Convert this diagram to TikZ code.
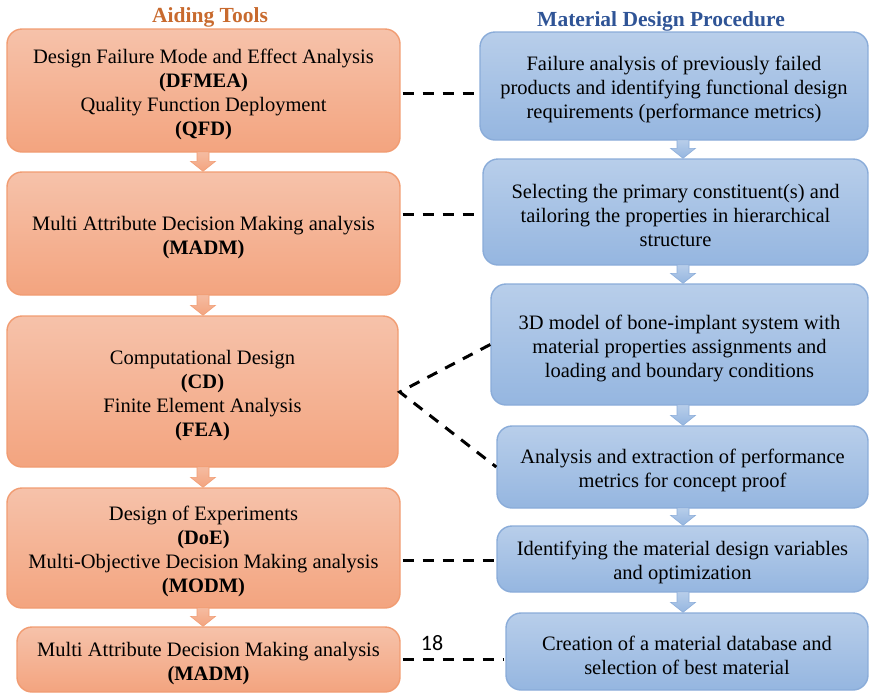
\documentclass[tikz,border=0pt]{standalone}
\usepackage{fontspec}
\setmainfont{Liberation Serif}
\newfontfamily\labelfont{Carlito}
\usetikzlibrary{calc}

\definecolor{toolTop}{RGB}{246,194,170}
\definecolor{toolBot}{RGB}{243,164,127}
\definecolor{toolEdge}{RGB}{241,156,114}
\definecolor{procTop}{RGB}{184,206,234}
\definecolor{procBot}{RGB}{149,182,224}
\definecolor{procEdge}{RGB}{138,172,217}
\definecolor{toolHead}{RGB}{200,106,46}
\definecolor{procHead}{RGB}{47,84,150}

% tall strut on the first line keeps the text block a little low in its box
\newcommand\firststrut{\rule{0pt}{22pt}}

\tikzset{
  basebox/.style={rectangle, rounded corners=15pt, line width=1.4pt,
    align=center, inner sep=0pt,
    font=\fontsize{20.5}{24}\selectfont},
  toolbox/.style={basebox, top color=toolTop, bottom color=toolBot, draw=toolEdge},
  procbox/.style={basebox, top color=procTop, bottom color=procBot, draw=procEdge},
  toolarrow/.style={top color=toolTop!80!toolBot, bottom color=toolBot, draw=toolEdge, line width=0.6pt},
  procarrow/.style={top color=procTop, bottom color=procBot, draw=procEdge, line width=0.6pt},
  dashlink/.style={black, line width=3pt, dash pattern=on 11pt off 9pt},
  headline/.style={font=\fontsize{21.5}{24}\selectfont\bfseries},
}

% block arrow: style, x-reference coordinate, upper node, lower node
\newcommand\flowarrow[4]{%
  \path[#1] ($(#3.south -| #2)+(-6,-1)$)
    -- ($(#4.north -| #2)+(-6,-10)$)
    -- ($(#4.north -| #2)+(-12.5,-10)$)
    -- (#4.north -| #2)
    -- ($(#4.north -| #2)+(12.5,-10)$)
    -- ($(#4.north -| #2)+(6,-10)$)
    -- ($(#3.south -| #2)+(6,-1)$) -- cycle;}

\begin{document}
\begin{tikzpicture}[x=1pt, y=-1pt]
\useasboundingbox (0,0) rectangle (869,694);

% column headings
\node[headline, text=toolHead] (h1) at (210,17) {Aiding Tools};
\node[headline, text=procHead] (h2) at (661,21) {Material Design Procedure};

% aiding tools
\node[toolbox, minimum width=393pt, minimum height=123pt] (o1) at (203.5,90.5)
  {\firststrut Design Failure Mode and Effect Analysis\\\textbf{(DFMEA)}\\Quality Function Deployment\\\textbf{(QFD)}};
\node[toolbox, minimum width=393pt, minimum height=123pt] (o2) at (203.5,233.5)
  {\firststrut Multi Attribute Decision Making analysis\\\textbf{(MADM)}};
\node[toolbox, minimum width=391pt, minimum height=151pt] (o3) at (202.5,391.5)
  {\firststrut Computational Design\\\textbf{(CD)}\\Finite Element Analysis\\\textbf{(FEA)}};
\node[toolbox, minimum width=393pt, minimum height=120pt] (o4) at (203.5,548)
  {\firststrut Design of Experiments\\\textbf{(DoE)}\\Multi-Objective Decision Making analysis\\\textbf{(MODM)}};
\node[toolbox, minimum width=383pt, minimum height=65pt] (o5) at (208.5,659.5)
  {\firststrut Multi Attribute Decision Making analysis\\\textbf{(MADM)}};

% material design procedure
\node[procbox, minimum width=388pt, minimum height=108pt] (b1) at (674,86)
  {\firststrut Failure analysis of previously failed\\products and identifying functional design\\requirements (performance metrics)};
\node[procbox, minimum width=385pt, minimum height=106pt] (b2) at (675.5,212)
  {\firststrut Selecting the primary constituent(s) and\\tailoring the properties in hierarchical\\structure};
\node[procbox, minimum width=377pt, minimum height=121pt] (b3) at (679.5,344.5)
  {\firststrut 3D model of bone-implant system with\\material properties assignments and\\loading and boundary conditions};
\node[procbox, minimum width=371pt, minimum height=82pt] (b4) at (682.5,467)
  {\firststrut Analysis and extraction of performance\\metrics for concept proof};
\node[procbox, minimum width=371pt, minimum height=66pt] (b5) at (682.5,559)
  {\firststrut Identifying the material design variables\\and optimization};
\node[procbox, minimum width=362pt, minimum height=77pt] (b6) at (687,651.5)
  {\firststrut Creation of a material database and\\selection of best material};

% arrow axes
\coordinate (ta) at (203,0);
\coordinate (pa) at (683,0);

\flowarrow{toolarrow}{ta}{o1}{o2}
\flowarrow{toolarrow}{ta}{o2}{o3}
\flowarrow{toolarrow}{ta}{o3}{o4}
\flowarrow{toolarrow}{ta}{o4}{o5}

\flowarrow{procarrow}{pa}{b1}{b2}
\flowarrow{procarrow}{pa}{b2}{b3}
\flowarrow{procarrow}{pa}{b3}{b4}
\flowarrow{procarrow}{pa}{b4}{b5}
\flowarrow{procarrow}{pa}{b5}{b6}

% links between tools and procedure steps
\draw[dashlink] ($(o1.east)+(2,2.5)$) -- ($(b1.west)+(-4,7)$);
\draw[dashlink] ($(o2.east)+(2,-19.5)$) -- ($(b2.west)+(-4,2)$);
\draw[dashlink] ($(b3.west)+(0,0)$) -- ($(o3.east)+(1,0.5)$) -- ($(b4.west)+(0,0)$);
\draw[dashlink] ($(o4.east)+(2,12)$) -- ($(b5.west)+(-1,1)$);
\draw[dashlink] ($(o5.east)+(2,-0.5)$) -- ($(b6.west)+(-1,7.5)$);

\node[font=\labelfont\fontsize{22}{24}\selectfont] (n18) at (432,643) {18};
\end{tikzpicture}
\end{document}
